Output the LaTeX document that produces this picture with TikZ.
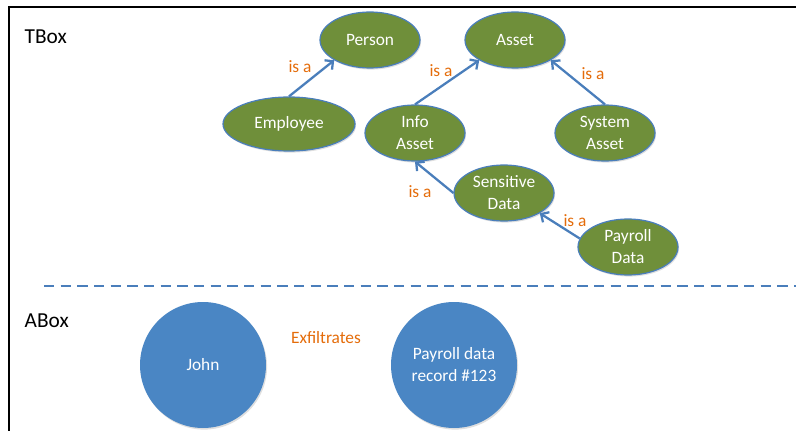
\documentclass[tikz,border=0pt]{standalone}
\usepackage{fontspec}
\setmainfont{Carlito}
\usetikzlibrary{shapes.geometric,arrows.meta,shadows}
\definecolor{olivefill}{HTML}{6F8F3A}
\definecolor{edgeblue}{HTML}{4A7EBB}
\definecolor{ballblue}{HTML}{4A86C4}
\definecolor{isaorange}{HTML}{E46C0A}
\begin{document}
\begin{tikzpicture}[
		x=0.75pt, y=-0.75pt,
		concept/.style={ellipse, draw=edgeblue, line width=0.9pt, fill=olivefill, text=white,
				minimum width=75pt, minimum height=42pt, inner sep=0pt, align=center,
				font=\fontsize{13}{16.5}\selectfont,
				drop shadow={opacity=0.25, shadow xshift=0.8pt, shadow yshift=-1.2pt}},
		individual/.style={circle, fill=ballblue, text=white, minimum size=94.5pt,
				inner sep=0pt, align=center, font=\fontsize{13}{16.5}\selectfont,
				drop shadow={opacity=0.25, shadow xshift=0.8pt, shadow yshift=-1.2pt}},
		isa/.style={-{Straight Barb[length=4.5pt,width=9pt]}, draw=edgeblue, line width=1.7pt},
		rel/.style={text=isaorange, font=\fontsize{13}{16}\selectfont},
		boxname/.style={anchor=west, font=\fontsize{16}{19}\selectfont},
		dashes/.style={line width=2pt, dash pattern=on 7.7pt off 4.8pt}
	]
	\useasboundingbox (0,0) rectangle (796,431);
	% frame
	\draw[line width=1.6pt] (9,431) -- (9,7) -- (796,7);
	\node[boxname] (tbox) at (20,37) {TBox};
	\node[boxname] (abox) at (20,321) {ABox};

	% TBox
	\node[concept] (person) at (370,40) {Person};
	\node[concept] (asset) at (515,40) {Asset};
	\node[concept, minimum width=99pt, minimum height=40.5pt] (employee) at (289,124) {Employee};
	\node[concept] (infoasset) at (415,133) {Info\\Asset};
	\node[concept] (sysasset) at (605,133) {System\\Asset};
	\node[concept] (sensitive) at (504,193) {Sensitive\\Data};
	\node[concept] (payroll) at (628,247) {Payroll\\Data};

	\draw[isa] (employee.north) -- (person.south west);
	\draw[isa] (infoasset.north) -- (asset.south west);
	\draw[isa] (sysasset.north) -- (asset.south east);
	\draw[isa] (sensitive.west) -- (infoasset.south);
	\draw[isa] (payroll.170) -- (sensitive.south east);

	\node[rel] (isa1) at (300,67) {is a};
	\node[rel] (isa2) at (441,71) {is a};
	\node[rel] (isa3) at (593,74) {is a};
	\node[rel] (isa4) at (420,192) {is a};
	\node[rel] (isa5) at (575,221) {is a};

	% separator
	\coordinate (sepL) at (44,286);
	\coordinate (sepR) at (796,286);
	\draw[dashes, black!30, yshift=-0.9pt] (sepL) -- (sepR);
	\draw[dashes, edgeblue] (sepL) -- (sepR);

	% ABox
	\node[individual] (john) at (203,365) {John};
	\node[individual] (record) at (454,365) {Payroll data\\record \#123};
	\node[rel] (exfil) at (326,338) {Exfiltrates};
\end{tikzpicture}
\end{document}
